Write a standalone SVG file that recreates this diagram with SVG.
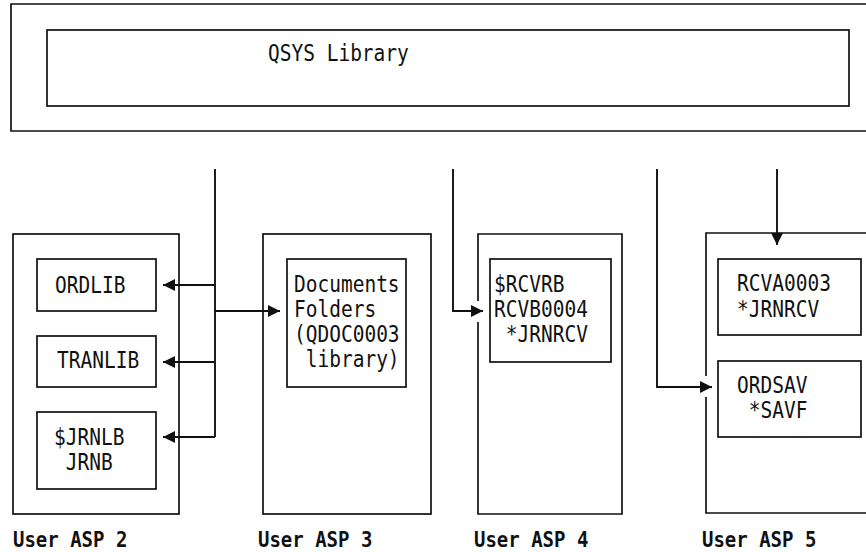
<svg xmlns="http://www.w3.org/2000/svg" width="866" height="552" viewBox="0 0 866 552">
  <style>
    .box { fill: none; stroke: #111; stroke-width: 1.7; }
    .wire { fill: none; stroke: #111; stroke-width: 1.9; }
    .t { font-family: "DejaVu Sans Mono", "Liberation Mono", monospace; font-size: 19.5px; fill: #111; white-space: pre; }
    .lbl { font-family: "DejaVu Sans Mono", "Liberation Mono", monospace; font-size: 19px; font-weight: bold; fill: #111; white-space: pre; }
  </style>
  <defs>
    <marker id="arrow" viewBox="0 0 12 12" refX="12" refY="6" markerWidth="12" markerHeight="12" markerUnits="userSpaceOnUse" orient="auto">
      <path d="M0,0 L12,6 L0,12 Z" fill="#111"/>
    </marker>
  </defs>
  <rect width="866" height="552" fill="#fff"/>

  <!-- System ASP: QSYS library -->
  <g id="qsys">
    <path class="box" d="M870,4 H11 V131 H870"/>
    <rect class="box" x="47" y="30" width="802" height="76"/>
    <text class="t" transform="translate(268,61) scale(1,1.15)">QSYS Library</text>
  </g>

  <!-- User ASP 2 -->
  <g id="asp2">
    <rect class="box" x="13" y="234" width="166" height="280"/>
    <text class="lbl" transform="translate(13,547) scale(1,1.15)">User ASP 2</text>
  </g>
  <g id="ordlib">
    <rect class="box" x="37" y="259" width="119" height="52"/>
    <text class="t" transform="translate(55,293) scale(1,1.15)">ORDLIB</text>
  </g>
  <g id="tranlib">
    <rect class="box" x="37" y="336" width="119" height="51"/>
    <text class="t" transform="translate(57,368) scale(1,1.15)">TRANLIB</text>
  </g>
  <g id="jrnlb">
    <rect class="box" x="37" y="412" width="119" height="77"/>
    <text class="t" transform="translate(54,445) scale(1,1.15)">$JRNLB</text>
    <text class="t" transform="translate(54,470) scale(1,1.15)"> JRNB</text>
  </g>

  <!-- User ASP 3 -->
  <g id="asp3">
    <rect class="box" x="263" y="234" width="168" height="280"/>
    <text class="lbl" transform="translate(258,547) scale(1,1.15)">User ASP 3</text>
  </g>
  <g id="qdoc">
    <rect class="box" x="287" y="259" width="119" height="128"/>
    <text class="t" transform="translate(294,292) scale(1,1.15)">Documents</text>
    <text class="t" transform="translate(294,317) scale(1,1.15)">Folders</text>
    <text class="t" transform="translate(294,342) scale(1,1.15)">(QDOC0003</text>
    <text class="t" transform="translate(294,367) scale(1,1.15)"> library)</text>
  </g>

  <!-- User ASP 4 -->
  <g id="asp4">
    <path class="box" d="M478,301 V234 H622 V514 H478 V322"/>
    <text class="lbl" transform="translate(474,547) scale(1,1.15)">User ASP 4</text>
  </g>
  <g id="rcvrb">
    <rect class="box" x="490" y="259" width="121" height="103"/>
    <text class="t" transform="translate(494,292) scale(1,1.15)">$RCVRB</text>
    <text class="t" transform="translate(494,317) scale(1,1.15)">RCVB0004</text>
    <text class="t" transform="translate(494,342) scale(1,1.15)"> *JRNRCV</text>
  </g>

  <!-- User ASP 5 -->
  <g id="asp5">
    <path class="box" d="M706,376 V233 H870 M870,513 H706 V397"/>
    <text class="lbl" transform="translate(702,547) scale(1,1.15)">User ASP 5</text>
  </g>
  <g id="rcva">
    <rect class="box" x="718" y="259" width="143" height="76"/>
    <text class="t" transform="translate(737,291) scale(1,1.15)">RCVA0003</text>
    <text class="t" transform="translate(737,317) scale(1,1.15)">*JRNRCV</text>
  </g>
  <g id="ordsav">
    <rect class="box" x="718" y="361" width="143" height="76"/>
    <text class="t" transform="translate(737,393) scale(1,1.15)">ORDSAV</text>
    <text class="t" transform="translate(737,418) scale(1,1.15)"> *SAVF</text>
  </g>

  <!-- Connectors -->
  <g id="connectors">
    <path class="wire" d="M215,169 V437"/>
    <path class="wire" d="M215,285 H163" marker-end="url(#arrow)"/>
    <path class="wire" d="M215,362 H163" marker-end="url(#arrow)"/>
    <path class="wire" d="M215,437 H163" marker-end="url(#arrow)"/>
    <path class="wire" d="M215,311 H280" marker-end="url(#arrow)"/>
    <path class="wire" d="M453,169 V311 H483" marker-end="url(#arrow)"/>
    <path class="wire" d="M657,169 V387 H712" marker-end="url(#arrow)"/>
    <path class="wire" d="M777,169 V245" marker-end="url(#arrow)"/>
  </g>
</svg>
